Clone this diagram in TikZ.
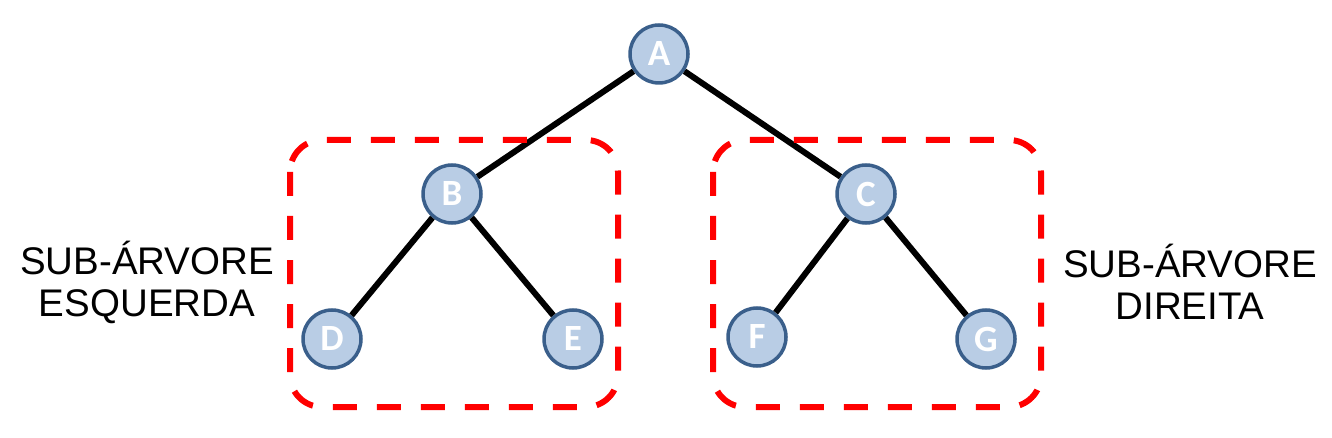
\documentclass[tikz,border=0pt]{standalone}
\usepackage{fontspec}
\setmainfont{Liberation Sans}
\newfontfamily\nodefont{Carlito}
\definecolor{nodefill}{HTML}{B9CDE5}
\definecolor{nodeedge}{HTML}{3A5F8B}
\begin{document}
\begin{tikzpicture}[x=1pt,y=-1pt,
  tnode/.style={circle,fill=nodefill,draw=nodeedge,line width=3.5pt,minimum size=58pt,inner sep=0pt,text=white,font=\nodefont\bfseries\fontsize{37}{37}\selectfont},
  edge/.style={line width=6pt,black},
  subbox/.style={draw=red,line width=6pt,dash pattern=on 24pt off 20pt,rounded corners=32pt},
  lbl/.style={align=center,font=\fontsize{38.5}{42}\selectfont}]
\useasboundingbox (0,0) rectangle (1332,438);
\node[tnode] (A) at (659,54) {A};
\node[tnode] (B) at (452,194) {B};
\node[tnode] (C) at (866,194) {C};
\node[tnode] (D) at (332,339) {D};
\node[tnode] (E) at (573,339) {E};
\node[tnode] (F) at (757,337) {F};
\node[tnode] (G) at (986,339) {G};
\draw[edge] (A) -- (B);
\draw[edge] (A) -- (C);
\draw[edge] (B) -- (D);
\draw[edge] (B) -- (E);
\draw[edge] (C) -- (F);
\draw[edge] (C) -- (G);
\draw[subbox] (290,140) rectangle (618,407);
\draw[subbox] (713,140) rectangle (1041,407);
\node[lbl] (L) at (147,282) {SUB-ÁRVORE\\ESQUERDA};
\node[lbl] (R) at (1190,282) {SUB-ÁRVORE\\DIREITA};
\end{tikzpicture}
\end{document}
